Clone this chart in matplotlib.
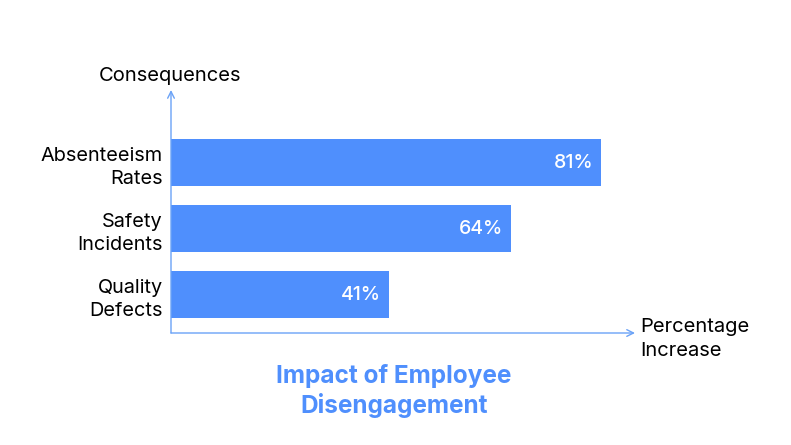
import matplotlib.pyplot as plt

plt.rcParams['font.family'] = ['Inter', 'DejaVu Sans']

categories = ['Quality\nDefects', 'Safety\nIncidents', 'Absenteeism\nRates']
values = [41, 64, 81]
labels = ['41%', '64%', '81%']

blue = '#4f8ffd'
axis_blue = '#6aa2f7'

fig = plt.figure(figsize=(7.91, 4.45), dpi=100)
ax = fig.add_axes([171 / 791, 112 / 445, 464 / 791, 243 / 445])

pos = list(range(len(categories)))
ax.barh(pos, values, height=0.71, color=blue)
ax.set_xlim(0, 87.4)
ax.set_ylim(-0.583, 3.1)

for p, v, t in zip(pos, values, labels):
    ax.text(v - 1.5, p, t, color='white', ha='right', va='center',
            fontsize=14, fontweight='medium')

ax.set_yticks(pos)
ax.set_yticklabels(categories, fontsize=14.3, linespacing=1.4)
ax.tick_params(axis='y', length=0, pad=6)
ax.set_xticks([])
for s in ax.spines.values():
    s.set_visible(False)

# arrow axes
ax.annotate('', xy=(1, 0), xytext=(0, 0), xycoords='axes fraction',
            arrowprops=dict(arrowstyle='->', color=axis_blue, lw=1,
                            shrinkA=0, shrinkB=0, mutation_scale=12))
ax.annotate('', xy=(0, 1), xytext=(0, 0), xycoords='axes fraction',
            arrowprops=dict(arrowstyle='->', color=axis_blue, lw=1,
                            shrinkA=0, shrinkB=0, mutation_scale=12))

fig.text(170 / 791, 1 - 76 / 445, 'Consequences', ha='center', va='center',
         fontsize=14.5)
fig.text(640 / 791, 1 - 339 / 445, 'Percentage\nIncrease', ha='left',
         va='center', fontsize=14.5, linespacing=1.4)
fig.text(394 / 791, 1 - 391 / 445, 'Impact of Employee\nDisengagement',
         ha='center', va='center', fontsize=17.5, fontweight='bold',
         color=blue, linespacing=1.2)

fig.savefig('out.png', dpi=100)
